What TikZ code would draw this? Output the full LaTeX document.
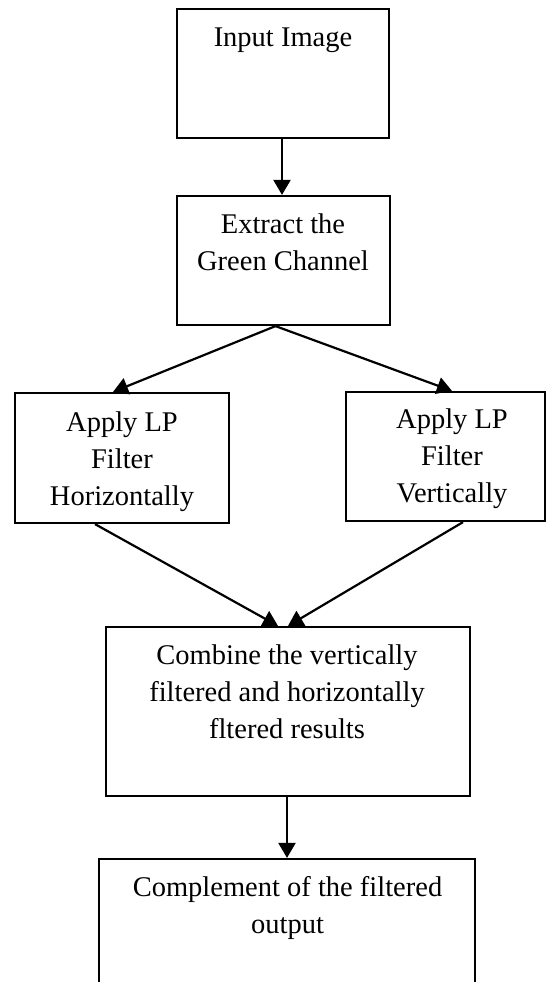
\documentclass[tikz,border=0pt]{standalone}
\usepackage{fontspec}
\setmainfont{Liberation Serif}
\usetikzlibrary{arrows.meta}
\begin{document}
\begin{tikzpicture}[x=1pt,y=-1pt,
  box/.style={draw=black,line width=2.2pt,rectangle,inner sep=0pt},
  txt/.style={align=center,inner sep=0pt,font=\fontsize{28.5}{37}\selectfont,anchor=base},
  arr/.style={line width=2.2pt,-{Triangle[length=15pt,width=17pt]}}]
\useasboundingbox (0,0) rectangle (547,982);
\clip (0,0) rectangle (547,982);
\node[box,minimum width=212pt,minimum height=129pt] (b1) at (283,73.5) {};
\node[box,minimum width=213pt,minimum height=129pt] (b2) at (283.5,260.5) {};
\node[box,minimum width=214pt,minimum height=130pt] (b3) at (122,458) {};
\node[box,minimum width=199pt,minimum height=129pt] (b4) at (445.5,456.5) {};
\node[box,minimum width=364pt,minimum height=169pt] (b5) at (288,711.5) {};
\node[box,minimum width=376pt,minimum height=160pt] (b6) at (287,939) {};
\node[txt] (t1) at (283,47) {Input Image};
\node[txt] (t2) at (283,270) {Extract the\\Green Channel};
\node[txt] (t3) at (122,505) {Apply LP\\Filter\\Horizontally};
\node[txt] (t4) at (452,502) {Apply LP\\Filter\\Vertically};
\node[txt] (t5) at (287,738) {Combine the vertically\\filtered and horizontally\\fltered results};
\node[txt] (t6) at (287.5,933) {Complement of the filtered\\output};
\draw[arr] ([xshift=-1pt]b1.south) -- ([xshift=-1pt]b1.south |- b2.north);
\draw[arr] ([xshift=-8pt]b2.south) -- ([xshift=-9pt]b3.north);
\draw[arr] ([xshift=-8pt]b2.south) -- ([xshift=6.5pt]b4.north);
\draw[arr] ([xshift=-27pt]b3.south) -- ([xshift=-10pt]b5.north);
\draw[arr] ([xshift=17.5pt]b4.south) -- (b5.north);
\draw[arr] (b6.north |- b5.south) -- (b6.north);
\end{tikzpicture}
\end{document}
